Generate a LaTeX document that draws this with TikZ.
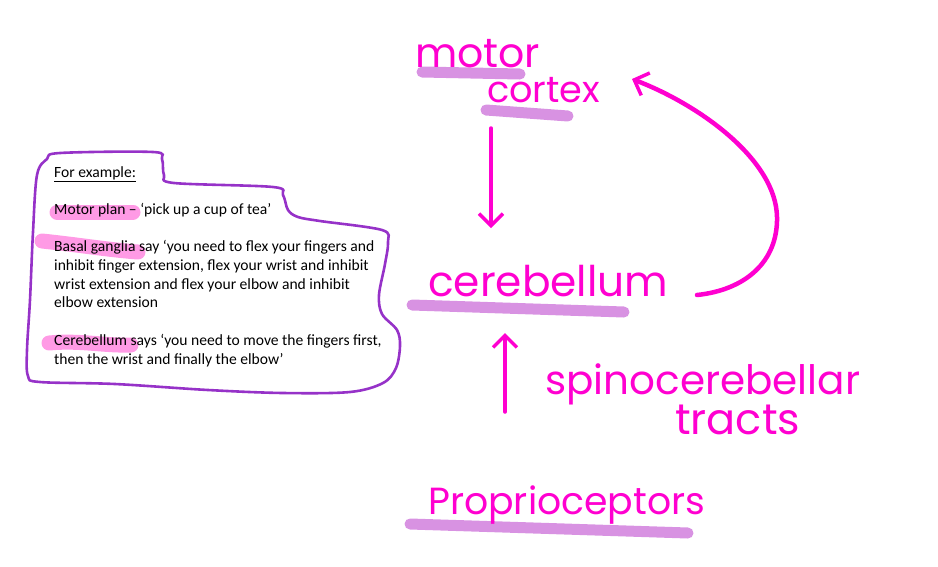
\documentclass[tikz,border=0pt]{standalone}
\usepackage{fontspec}
\usetikzlibrary{arrows.meta}
\newfontfamily\hwfont{Poppins}
\newfontfamily\boxfont{Carlito}
\definecolor{mag}{RGB}{255,0,208}
\definecolor{lav}{RGB}{216,146,226}
\definecolor{boxpurple}{RGB}{150,50,200}
\definecolor{softpink}{RGB}{255,120,220}
\tikzset{
  hand/.style={text=mag, inner sep=0pt, font=\hwfont, anchor=base west},
  hl/.style={draw=lav, line width=11pt, line cap=round},
  txthl/.style={draw=softpink, opacity=0.75, line width=15pt, line cap=round},
  arr/.style={draw=mag, line width=3.5pt, line cap=round,
    -{Straight Barb[length=12pt,width=24pt,line width=3.5pt]}},
  boxline/.style={draw=boxpurple, line width=2.6pt},
  boxtext/.style={align=left, anchor=north west, inner sep=0pt,
    font=\boxfont\fontsize{15.6}{18.7}\selectfont}
}
\begin{document}
\begin{tikzpicture}[x=1pt,y=-1pt]
\useasboundingbox (0,0) rectangle (938,566);

% text box outline
\draw[boxline] plot[smooth cycle, tension=0.55] coordinates {
 (37,175) (47,159) (60,153) (153,152) (162,159) (164,175) (174,183)
 (273,187) (283,195) (288,210) (298,217) (320,221) (382,230) (388,242)
 (385,264) (379,295) (382,314) (397,330) (400,346) (396,368) (383,383)
 (350,392) (283,393) (208,390) (115,384) (40,382) (28,376) (27,350)
 (30,300) (33,232)};

% pink text highlights
\draw[txthl] (57,212) -- (133,212);
\draw[txthl] (42,241) .. controls (80,245) and (110,250) .. (138,252);
\draw[txthl] (49,343) .. controls (80,340) and (105,346) .. (131,345);

\node[boxtext] (ex) at (54,166) {\underline{For example:}\\[18.7pt]
Motor plan – ‘pick up a cup of tea’\\[18.7pt]
Basal ganglia say ‘you need to flex your fingers and\\
inhibit finger extension, flex your wrist and inhibit\\
wrist extension and flex your elbow and inhibit\\
elbow extension\\[18.7pt]
Cerebellum says ‘you need to move the fingers first,\\
then the wrist and finally the elbow’};

% lavender underlines
\draw[hl] (422,72) -- (520,74);
\draw[hl] (486,110) -- (568,116);
\draw[hl] (412,305) -- (624,312);
\draw[hl] (410,524) -- (688,533);

% handwritten labels
\node[hand] (motor) at (415,67) {\resizebox{125pt}{!}{motor}};
\node[hand] (cortex) at (487,102) {\resizebox{113pt}{!}{cortex}};
\node[hand] (cereb) at (428,296) {\resizebox{240pt}{!}{cerebellum}};
\node[hand] (spino) at (545,394) {\resizebox{315pt}{!}{spinocerebellar}};
\node[hand] (tracts) at (675,434) {\resizebox{125pt}{!}{tracts}};
\node[hand] (proprio) at (428,514) {\resizebox{277pt}{!}{Proprioceptors}};

% arrows
\coordinate (dstart) at (491,128);
\coordinate (dend) at (491,228);
\coordinate (ustart) at (505,412);
\coordinate (uend) at (505,333);
\coordinate (cstart) at (697,295);
\coordinate (cmid) at (777,217);
\coordinate (cend) at (632,79);
\draw[arr] (dstart) -- (dend);
\draw[arr] (ustart) -- (uend);
\draw[arr, line width=4.5pt] (cstart) .. controls (745,290) and (778,262) .. (cmid)
   .. controls (776,160) and (700,105) .. (cend);
\end{tikzpicture}
\end{document}
